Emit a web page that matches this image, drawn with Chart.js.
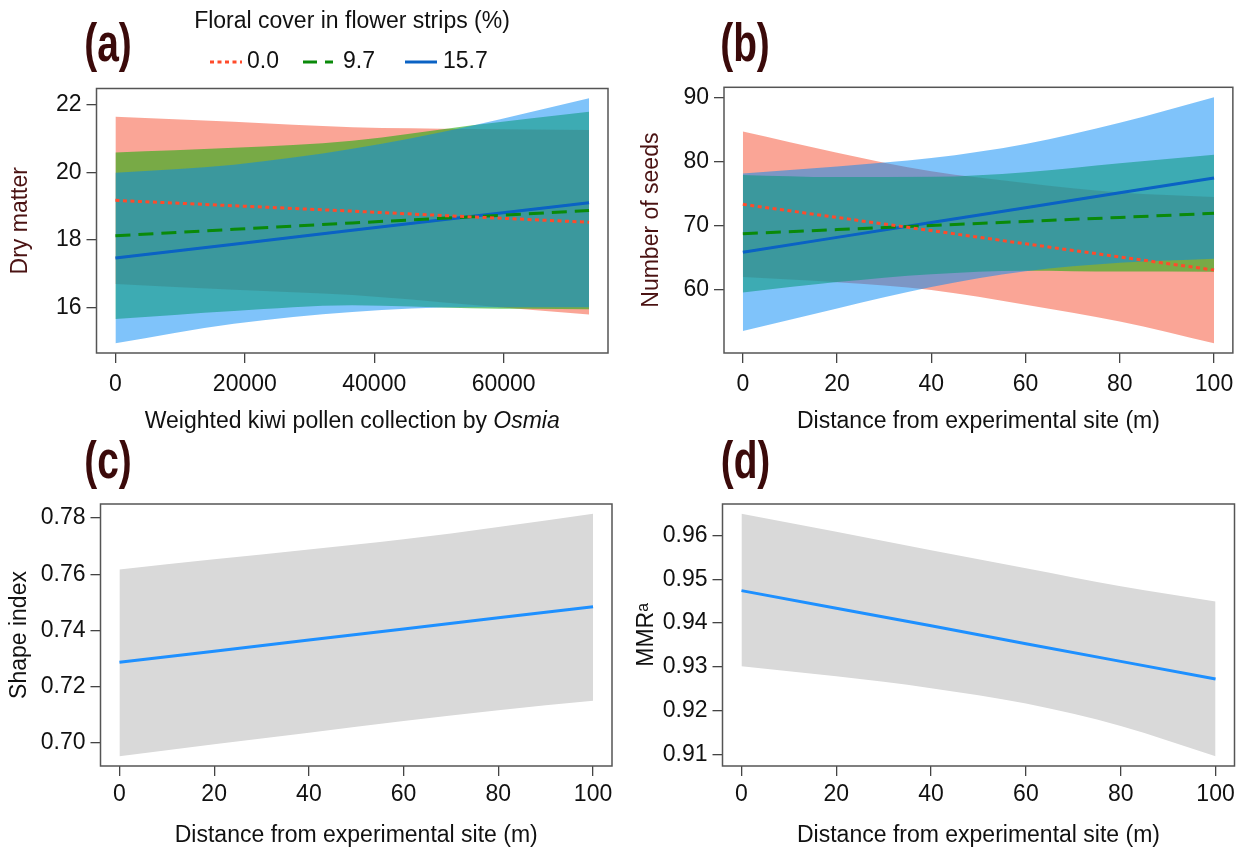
<!DOCTYPE html>
<html>
<head>
<meta charset="utf-8">
<script src="https://cdn.jsdelivr.net/npm/chart.js@4.4.1/dist/chart.umd.min.js"></script>
<style>
html, body { margin: 0; padding: 0; background: #fff; width: 1244px; height: 848px; overflow: hidden; }
canvas { position: absolute; }
</style>
</head>
<body>
<canvas id="pa" width="620" height="440" style="left:0;top:0"></canvas>
<canvas id="pb" width="624" height="440" style="left:620px;top:0"></canvas>
<canvas id="pc" width="620" height="408" style="left:0;top:440px"></canvas>
<canvas id="pd" width="624" height="408" style="left:620px;top:440px"></canvas>
<script>
var FONT = '"Liberation Sans", Arial, Helvetica, sans-serif'

// (a) dry matter vs weighted kiwi pollen collection, one band per floral cover level
var xA = [0, 18300, 36600, 54900, 73200]
var redLineA = [19.17, 19.01, 18.85, 18.68, 18.52]
var redUpA = [21.65, 21.50, 21.34, 21.29, 21.26]
var redLoA = [16.69, 16.52, 16.36, 16.07, 15.78]
var greenLineA = [18.12, 18.31, 18.50, 18.68, 18.87]
var greenUpA = [20.59, 20.73, 20.94, 21.39, 21.80]
var greenLoA = [15.65, 15.89, 16.06, 15.97, 15.94]
var blueLineA = [17.46, 17.87, 18.28, 18.69, 19.10]
var blueUpA = [19.99, 20.23, 20.70, 21.38, 22.20]
var blueLoA = [14.93, 15.51, 15.86, 16.00, 16.00]
var xTicksA = [0, 20000, 40000, 60000]
var yTicksA = [16, 18, 20, 22]

// (b) number of seeds vs distance
var xB = [0, 20, 40, 60, 80, 100]
var redLineB = [73.38, 71.33, 69.28, 67.22, 65.17, 63.12]
var redUpB = [84.73, 81.43, 78.53, 76.72, 75.24, 74.52]
var redLoB = [62.03, 61.23, 60.03, 57.72, 55.10, 51.72]
var greenLineB = [68.80, 69.44, 70.07, 70.71, 71.34, 71.98]
var greenUpB = [77.97, 77.64, 77.67, 78.40, 79.80, 81.10]
var greenLoB = [59.63, 61.24, 62.47, 63.02, 62.88, 62.86]
var blueLineB = [65.90, 68.22, 70.54, 72.86, 75.18, 77.50]
var blueUpB = [78.20, 79.30, 80.60, 82.80, 86.10, 90.10]
var blueLoB = [53.60, 57.14, 60.48, 62.92, 64.26, 64.90]
var xTicksB = [0, 20, 40, 60, 80, 100]
var yTicksB = [60, 70, 80, 90]

// (c) shape index vs distance
var xC = [0, 20, 40, 60, 80, 100]
var lineC = [0.7287, 0.7326, 0.7366, 0.7405, 0.7445, 0.7484]
var upC = [0.7617, 0.7653, 0.7688, 0.7724, 0.7768, 0.7815]
var loC = [0.6953, 0.6996, 0.7037, 0.7078, 0.7117, 0.7150]
var yTicksC = [0.70, 0.72, 0.74, 0.76, 0.78]

// (d) MMR vs distance
var xD = [0, 20, 40, 60, 80, 100]
var lineD = [0.9474, 0.9434, 0.9394, 0.9353, 0.9313, 0.9273]
var upD = [0.9649, 0.9608, 0.9566, 0.9525, 0.9484, 0.9449]
var loD = [0.9302, 0.9279, 0.9252, 0.9217, 0.9166, 0.9097]
var yTicksD = [0.91, 0.92, 0.93, 0.94, 0.95, 0.96]

var legendTitle = 'Floral cover in flower strips (%)'
var legendLabels = ['0.0', '9.7', '15.7']

var RED = '#ff4b2b', GREEN = '#0a8a0a', BLUE = '#0a62c4'
var RED_FILL = 'rgba(245,75,45,0.5)', GREEN_FILL = 'rgba(33,173,17,0.6)', BLUE_FILL = 'rgba(0,135,245,0.5)'
var BROWN = '#4a1212', LABEL = '#3b0a0a'

function pts(xs, ys) {
    return xs.map((x, i) => ({ x: x, y: ys[i] }))
}

function lineSet(xs, ys, color, dash) {
    return { data: pts(xs, ys), borderColor: color, borderWidth: 3, borderDash: dash, pointRadius: 0, fill: false, tension: 0 }
}

function bandSets(xs, up, lo, fillColor) {
    return [
        { data: pts(xs, up), borderWidth: 0, borderColor: 'rgba(0,0,0,0)', backgroundColor: fillColor, pointRadius: 0, fill: '+1', cubicInterpolationMode: 'monotone' },
        { data: pts(xs, lo), borderWidth: 0, borderColor: 'rgba(0,0,0,0)', pointRadius: 0, fill: false, cubicInterpolationMode: 'monotone' }
    ]
}

function drawPanelLabel(ctx, text, x, y) {
    ctx.save()
    ctx.fillStyle = LABEL
    ctx.font = 'bold 54px ' + FONT
    ctx.textAlign = 'center'
    ctx.textBaseline = 'middle'
    ctx.translate(x, y)
    ctx.scale(0.72, 1)
    ctx.fillText(text, 0, 0)
    ctx.restore()
}

function makePanel(id, p) {
    var ctx = document.getElementById(id).getContext('2d')
    var tickFont = { family: FONT, size: 23, lineHeight: 1 }
    var titleFont = { family: FONT, size: 23, lineHeight: 1 }
    var fmt = p.decimals ? (v => Number(v).toFixed(p.decimals)) : (v => String(v))
    return new Chart(ctx, {
        type: 'line',
        data: { datasets: p.datasets },
        options: {
            responsive: false,
            devicePixelRatio: 1,
            animation: false,
            events: [],
            layout: { padding: p.padding },
            plugins: { legend: { display: false }, tooltip: { enabled: false } },
            scales: {
                x: {
                    type: 'linear', min: p.xMin, max: p.xMax,
                    afterBuildTicks: s => { s.ticks = p.xTicks.map(v => ({ value: v })) },
                    afterFit: s => { s.height = p.xH },
                    grid: { drawOnChartArea: false, drawTicks: true, tickLength: 10, color: '#444', lineWidth: 1.3 },
                    border: { display: false },
                    ticks: { color: '#111', font: tickFont, padding: p.xPad, maxRotation: 0, autoSkip: false, callback: v => String(v) },
                    title: { display: !!p.xTitle, text: p.xTitle || '', color: '#111', font: titleFont, padding: { top: 0, bottom: p.xTitlePad } }
                },
                y: {
                    type: 'linear', min: p.yMin, max: p.yMax,
                    afterBuildTicks: s => { s.ticks = p.yTicks.map(v => ({ value: v })) },
                    afterFit: s => { s.width = p.yW },
                    grid: { drawOnChartArea: false, drawTicks: true, tickLength: 10, color: '#444', lineWidth: 1.3 },
                    border: { display: false },
                    ticks: { color: '#111', font: tickFont, padding: 5, autoSkip: false, callback: fmt },
                    title: { display: true, text: p.yTitle, color: p.yTitleColor, font: titleFont, padding: { top: p.yTitlePad, bottom: 0 } }
                }
            }
        },
        plugins: [{
            id: 'deco',
            afterDraw: chart => {
                var c = chart.ctx, a = chart.chartArea
                c.save()
                c.strokeStyle = '#555'
                c.lineWidth = 1.5
                c.strokeRect(a.left, a.top, a.right - a.left, a.bottom - a.top)
                c.restore()
                drawPanelLabel(c, p.label, p.labelX, p.labelY)
                if (p.extra) p.extra(chart)
            }
        }]
    })
}

// legend and the partly italic x title of panel (a)
function extraA(chart) {
    var c = chart.ctx, a = chart.chartArea
    c.save()
    c.fillStyle = '#111'
    c.textBaseline = 'middle'
    c.font = '23px ' + FONT
    c.textAlign = 'center'
    c.fillText(legendTitle, 352, 22)
    var items = [[210, 242, 247, RED, [4, 3.5]], [303, 333, 343, GREEN, [14, 8]], [405, 437, 443, BLUE, []]]
    c.textAlign = 'left'
    items.forEach((it, i) => {
        c.strokeStyle = it[3]
        c.lineWidth = 3
        c.setLineDash(it[4])
        c.beginPath()
        c.moveTo(it[0], 62)
        c.lineTo(it[1], 62)
        c.stroke()
        c.fillText(legendLabels[i], it[2], 62)
    })
    c.setLineDash([])
    var t1 = 'Weighted kiwi pollen collection by ', t2 = 'Osmia'
    c.font = '23px ' + FONT
    var w1 = c.measureText(t1).width
    c.font = 'italic 23px ' + FONT
    var w2 = c.measureText(t2).width
    var x0 = (a.left + a.right) / 2 - (w1 + w2) / 2
    c.font = '23px ' + FONT
    c.fillText(t1, x0, 422)
    c.font = 'italic 23px ' + FONT
    c.fillText(t2, x0 + w1, 422)
    c.restore()
}

makePanel('pa', {
    datasets: [
        lineSet(xA, redLineA, RED, [4, 3.5]),
        lineSet(xA, greenLineA, GREEN, [15, 8]),
        lineSet(xA, blueLineA, BLUE, []),
        ...bandSets(xA, blueUpA, blueLoA, BLUE_FILL),
        ...bandSets(xA, greenUpA, greenLoA, GREEN_FILL),
        ...bandSets(xA, redUpA, redLoA, RED_FILL)
    ],
    padding: { left: 0, top: 88.5, right: 12, bottom: 2 },
    yW: 96.5, xH: 85, xPad: 10.5,
    xMin: -2928, xMax: 76128, yMin: 14.64, yMax: 22.49,
    xTicks: xTicksA, yTicks: yTicksA,
    xTitle: null, xTitlePad: 0,
    yTitle: 'Dry matter', yTitleColor: BROWN, yTitlePad: 9.5,
    label: '(a)', labelX: 108, labelY: 46,
    extra: extraA
})

makePanel('pb', {
    datasets: [
        lineSet(xB, redLineB, RED, [4, 3.5]),
        lineSet(xB, greenLineB, GREEN, [15, 8]),
        lineSet(xB, blueLineB, BLUE, []),
        ...bandSets(xB, blueUpB, blueLoB, BLUE_FILL),
        ...bandSets(xB, greenUpB, greenLoB, GREEN_FILL),
        ...bandSets(xB, redUpB, redLoB, RED_FILL)
    ],
    padding: { left: 0, top: 87.3, right: 8, bottom: 2 },
    yW: 104, xH: 85, xPad: 10.5,
    xMin: -4, xMax: 104, yMin: 50.18, yMax: 91.64,
    xTicks: xTicksB, yTicks: yTicksB,
    xTitle: 'Distance from experimental site (m)', xTitlePad: 4.8,
    yTitle: 'Number of seeds', yTitleColor: BROWN, yTitlePad: 20.5,
    label: '(b)', labelX: 125, labelY: 46
})

makePanel('pc', {
    datasets: [
        lineSet(xC, lineC, '#1e90ff', []),
        ...bandSets(xC, upC, loC, '#d9d9d9')
    ],
    padding: { left: 0, top: 64, right: 7, bottom: 0 },
    yW: 100.5, xH: 82, xPad: 7.5,
    xMin: -4, xMax: 104, yMin: 0.69185, yMax: 0.78495,
    xTicks: xTicksB, yTicks: yTicksC, decimals: 2,
    xTitle: 'Distance from experimental site (m)', xTitlePad: 0.5,
    yTitle: 'Shape index', yTitleColor: '#111', yTitlePad: 8.5,
    label: '(c)', labelX: 108, labelY: 23
})

makePanel('pd', {
    datasets: [
        lineSet(xD, lineD, '#1e90ff', []),
        ...bandSets(xD, upD, loD, '#d9d9d9')
    ],
    padding: { left: 0, top: 64, right: 9.5, bottom: 0 },
    yW: 102.5, xH: 82, xPad: 7.5,
    xMin: -4, xMax: 104, yMin: 0.90749, yMax: 0.96711,
    xTicks: xTicksB, yTicks: yTicksD, decimals: 2,
    xTitle: 'Distance from experimental site (m)', xTitlePad: 0.5,
    yTitle: 'MMRᵃ', yTitleColor: '#111', yTitlePad: 15.5,
    label: '(d)', labelX: 125.5, labelY: 23
})
</script>
</body>
</html>
